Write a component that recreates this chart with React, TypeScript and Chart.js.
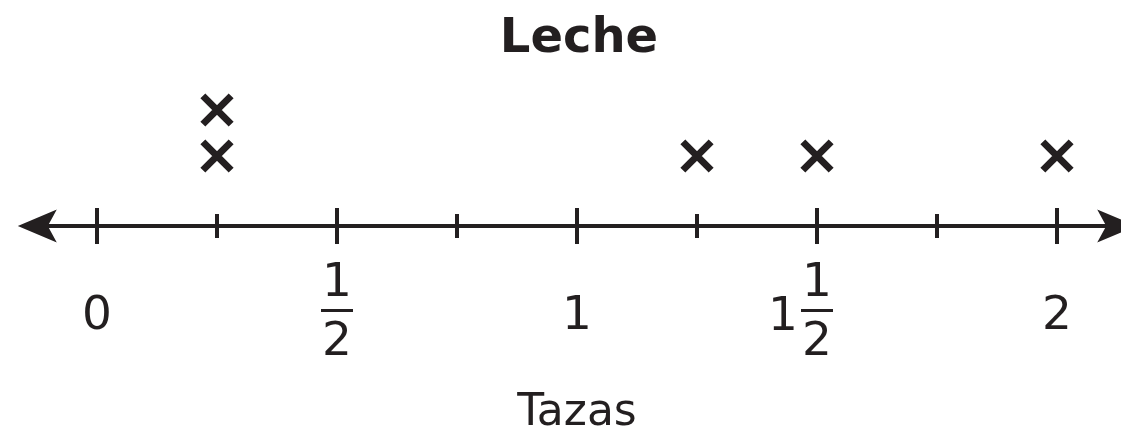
import React, { useEffect, useRef } from "react";
import { Chart, registerables } from "chart.js";

Chart.register(...registerables);

const chartTitle = "Leche";
const axisTitle = "Tazas";
const tickValues = [0, 0.25, 0.5, 0.75, 1, 1.25, 1.5, 1.75, 2];
const majorTickValues = [0, 0.5, 1, 1.5, 2];
// label: [whole, numerator, denominator]
const majorTickLabels: [string, string, string][] = [
  ["0", "", ""],
  ["", "1", "2"],
  ["1", "", ""],
  ["1", "1", "2"],
  ["2", "", ""],
];
const markValues = [0.25, 0.25, 1.25, 1.5, 2];

const INK = "#231f20";
const FONT = "'DejaVu Sans', Verdana, sans-serif";

export default function App() {
  const ref = useRef<HTMLCanvasElement | null>(null);

  useEffect(() => {
    document.body.style.margin = "0";
    const canvas = ref.current!;
    const counts: Record<string, number> = {};
    const points = markValues.map((v) => {
      const k = String(v);
      counts[k] = (counts[k] || 0) + 1;
      return { x: v, y: counts[k] };
    });

    const numberLine = {
      id: "numberLine",
      beforeDatasetsDraw(chart: any) {
        const ctx = chart.ctx as CanvasRenderingContext2D;
        const xs = chart.scales.x;
        const ys = chart.scales.y;
        const axisY = ys.getPixelForValue(ys.min);
        const p0 = xs.getPixelForValue(0);
        const p1 = xs.getPixelForValue(1);
        const p2 = xs.getPixelForValue(2);
        const unit = p1 - p0;
        const ext = unit * 0.165;
        const leftTip = p0 - ext;
        const rightTip = p2 + ext;
        ctx.save();
        ctx.strokeStyle = INK;
        ctx.fillStyle = INK;
        ctx.lineWidth = 4;
        ctx.beginPath();
        ctx.moveTo(leftTip + 10, axisY);
        ctx.lineTo(rightTip - 10, axisY);
        ctx.stroke();
        const arrow = (tip: number, dir: number) => {
          ctx.beginPath();
          ctx.moveTo(tip, axisY);
          ctx.lineTo(tip + dir * 39, axisY - 16.5);
          ctx.lineTo(tip + dir * 30, axisY);
          ctx.lineTo(tip + dir * 39, axisY + 16.5);
          ctx.closePath();
          ctx.fill();
        };
        arrow(leftTip, 1);
        arrow(rightTip, -1);
        ctx.lineWidth = 4;
        tickValues.forEach((v) => {
          const x = Math.round(xs.getPixelForValue(v));
          const major = majorTickValues.includes(v);
          const h = major ? 18 : 12;
          ctx.beginPath();
          ctx.moveTo(x, axisY - h);
          ctx.lineTo(x, axisY + h);
          ctx.stroke();
        });
        ctx.font = `47px ${FONT}`;
        ctx.textAlign = "center";
        ctx.textBaseline = "alphabetic";
        majorTickLabels.forEach(([whole, num, den], i) => {
          const x = xs.getPixelForValue(majorTickValues[i]);
          if (!num) {
            ctx.fillText(whole, x, axisY + 103);
          } else {
            ctx.fillText(num, x, axisY + 70);
            ctx.fillRect(x - 16, axisY + 83, 32, 3);
            ctx.fillText(den, x, axisY + 129);
            if (whole) ctx.fillText(whole, x - 34, axisY + 104);
          }
        });
        ctx.font = `44px ${FONT}`;
        ctx.fillText(axisTitle, p1, axisY + 199);
        ctx.font = `bold 48px ${FONT}`;
        ctx.fillText(chartTitle, p1 + 2, 52);
        ctx.restore();
      },
    };

    const chart = new Chart(canvas, {
      type: "scatter",
      data: {
        datasets: [
          {
            data: points,
            pointStyle: "crossRot",
            pointRadius: 20,
            pointBorderWidth: 7,
            borderColor: INK,
            backgroundColor: INK,
          },
        ],
      },
      options: {
        animation: false,
        responsive: false,
        layout: { autoPadding: false, padding: { left: 20, right: 4, top: 64, bottom: 210 } },
        plugins: { legend: { display: false }, tooltip: { enabled: false }, title: { display: false } },
        scales: {
          x: { type: "linear", display: false, min: -77 / 480, max: 2 + 60 / 480 },
          y: { type: "linear", display: false, min: 1 - 70 / 46, max: 3 },
        },
      },
      plugins: [numberLine],
    });
    return () => chart.destroy();
  }, []);

  return (
    <canvas
      ref={ref}
      width={1121}
      height={436}
      style={{ position: "absolute", left: 0, top: 0, width: 1121, height: 436 }}
    />
  );
}
